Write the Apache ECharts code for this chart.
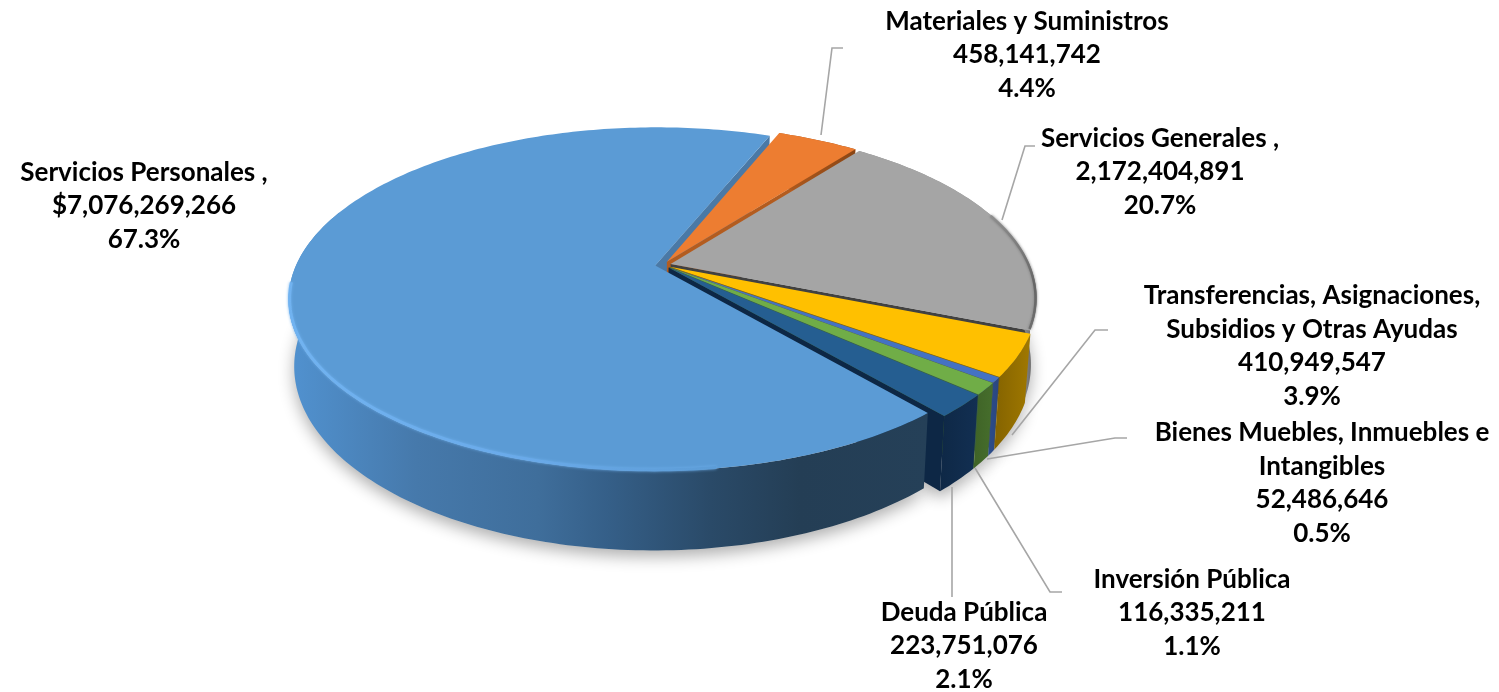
<!DOCTYPE html>
<html>
<head>
<meta charset="utf-8">
<title>Presupuesto por capitulo</title>
<script src="https://cdn.jsdelivr.net/npm/echarts@6/dist/echarts.min.js"></script>
<style>
  html, body { margin: 0; padding: 0; background: #fff; }
  #chart { width: 1499px; height: 692px; }
</style>
</head>
<body>
<div id="chart"></div>
<script>
// Data
const names = [
  'Servicios Personales ,',
  'Materiales y Suministros',
  'Servicios Generales ,',
  'Transferencias, Asignaciones,\nSubsidios y Otras Ayudas',
  'Bienes Muebles, Inmuebles e\nIntangibles',
  'Inversión Pública',
  'Deuda Pública'
];
const values = [7076269266, 458141742, 2172404891, 410949547, 52486646, 116335211, 223751076];
const amountLabels = ['$7,076,269,266', '458,141,742', '2,172,404,891', '410,949,547', '52,486,646', '116,335,211', '223,751,076'];
const percentLabels = ['67.3%', '4.4%', '20.7%', '3.9%', '0.5%', '1.1%', '2.1%'];

// Slice colours: top face, end cut, wall gradient
const topColors = ['#5b9bd5', '#ed7d31', '#a5a5a5', '#ffc000', '#4472c4', '#70ad47', '#255e91'];
const cutColors = ['#4a79a6', '#b35c1f', '#414141', '#8a6800', '#2a4a85', '#42682a', '#0d2745'];
const wallStops = [
  [[0, '#5192d0'], [0.2, '#4679ab'], [0.39, '#3f6e9b'], [0.5, '#355f88'], [0.66, '#2a4a68'], [0.8, '#243e55'], [1, '#254058']],
  [[0, '#b35c1f'], [1, '#8a4615']],
  [[0, '#8a8a8a'], [0.9, '#a0a0a0'], [1, '#555555']],
  [[0, '#846300'], [1, '#a07800']],
  [[0, '#2c4d8a'], [1, '#2a4680']],
  [[0, '#3f6327'], [1, '#466e2c']],
  [[0, '#0e2846'], [1, '#122f52']]
];

// Label placement: centre of text block, then leader line points
const labelCenters = [[144, 206], [1027, 55], [1160, 172], [1312, 346], [1322, 483], [1192, 613], [964, 646]];
const leaderLines = [
  null,
  [[821, 135], [832, 48], [843, 48]],
  [[1002, 220], [1025, 146], [1035, 146]],
  [[1012, 435], [1095, 330], [1108, 330]],
  [[987, 459], [1115, 438], [1127, 438]],
  [[975, 468], [1050, 592], [1062, 592]],
  [[952, 487], [952, 597]]
];

// Pie geometry
const cx = 663, cy = 265;   // centre of the disc on screen
const radius = 359;         // horizontal radius
const squash = 165;         // vertical radius before perspective
const persp = 0.195;        // how much nearer points grow
const wallHeight = 64;
const explode = 0.022;
const startAngle = 139.5;   // degrees clockwise from top
const lastWallAngle = 290;  // big slice's rim further round than this faces away

const total = values.reduce((a, b) => a + b, 0);
let running = startAngle;
const sliceAngles = values.map(v => {
  const from = running;
  running += v / total * 360;
  return [from, running];
});

const rad = d => d * Math.PI / 180;

const project = (angle, r, i, low) => {
  const mid = rad((sliceAngles[i][0] + sliceAngles[i][1]) / 2);
  const u = Math.sin(rad(angle)) * r + Math.sin(mid) * explode;
  const v = -Math.cos(rad(angle)) * r - Math.cos(mid) * explode;
  const s = 1 / (1 - persp * v);
  const x = cx + radius * u * s;
  const y = cy + squash * v * s;
  return low ? [cx + (x - cx) * 0.985, y + wallHeight * s] : [x, y];
};

const arc = (from, to, i, low) => {
  const pts = [];
  const n = Math.max(2, Math.ceil(to - from));
  for (let k = 0; k <= n; k++) pts.push(project(from + (to - from) * k / n, 1, i, low));
  return pts;
};

const renderShadow = (params) => {
  const i = params.dataIndex;
  const [a, b] = sliceAngles[i];
  return {
    type: 'polygon',
    shape: { points: [project(0, 0, i, true)].concat(arc(a, b, i, true)) },
    style: { fill: '#d0d0d0', shadowBlur: 16, shadowColor: 'rgba(0,0,0,0.32)', shadowOffsetY: 6 }
  };
};

const renderCuts = (params) => {
  const i = params.dataIndex;
  const b = sliceAngles[i][1];
  return {
    type: 'polygon',
    shape: { points: [project(0, 0, i, false), project(b, 1, i, false), project(b, 1, i, true), project(0, 0, i, true)] },
    style: { fill: cutColors[i] }
  };
};

const renderWalls = (params) => {
  const i = params.dataIndex;
  const [a, b] = sliceAngles[i];
  const end = a < lastWallAngle ? Math.min(b, lastWallAngle) : b;
  const top = arc(a, end, i, false);
  const low = arc(a, end, i, true);
  return {
    type: 'polygon',
    shape: { points: top.concat(low.slice().reverse()) },
    style: { fill: new echarts.graphic.LinearGradient(0, 0, 1, 0, wallStops[i].map(s => ({ offset: s[0], color: s[1] }))) }
  };
};

const renderTops = (params) => {
  const i = params.dataIndex;
  const [a, b] = sliceAngles[i];
  const children = [{
    type: 'polygon',
    shape: { points: [project(0, 0, i, false)].concat(arc(a, b, i, false)) },
    style: { fill: topColors[i] }
  }];
  // soft highlight along the front rim of the big slice
  if (i === 0) {
    children.push({
      type: 'polyline',
      shape: { points: arc(172, 264, i, false).map(p => [p[0] + 1, p[1] - 1]) },
      style: {
        fill: null,
        lineWidth: 3,
        opacity: 0.9,
        shadowBlur: 3,
        shadowColor: '#6fb1ee',
        stroke: new echarts.graphic.LinearGradient(0, 0, 1, 0, [
          { offset: 0, color: '#72b4f2' },
          { offset: 0.55, color: '#6aaaea' },
          { offset: 1, color: '#5b9bd5' }
        ])
      }
    });
  }
  // dark soft edge on the right of the grey slice
  if (i === 2) {
    children.push({
      type: 'polyline',
      shape: { points: arc(b - 40, b - 0.5, i, false).map(p => [p[0] - 1, p[1]]) },
      style: {
        fill: null,
        lineWidth: 2.5,
        shadowBlur: 3,
        shadowColor: '#777',
        stroke: new echarts.graphic.LinearGradient(0, 0, 0, 1, [
          { offset: 0, color: '#8f8f8f' },
          { offset: 0.6, color: '#666666' },
          { offset: 1, color: '#6e6e6e' }
        ])
      }
    });
  }
  return { type: 'group', children };
};

const labelElements = names.map((name, i) => ({
  type: 'text',
  x: labelCenters[i][0],
  y: labelCenters[i][1],
  z: 10,
  style: {
    text: name + '\n' + amountLabels[i] + '\n' + percentLabels[i],
    fill: '#000',
    font: 'bold 26px Lato',
    lineHeight: 33.6,
    align: 'center',
    verticalAlign: 'middle'
  }
}));

const leaderElements = leaderLines.filter(Boolean).map(pts => ({
  type: 'polyline',
  z: 9,
  shape: { points: pts },
  style: { stroke: '#a6a6a6', lineWidth: 1.6, fill: null }
}));

const chart = echarts.init(document.getElementById('chart'));
chart.setOption({
  backgroundColor: '#fff',
  animation: false,
  graphic: { elements: leaderElements.concat(labelElements) },
  series: [
    { type: 'custom', coordinateSystem: 'none', z: 1, silent: true, renderItem: renderShadow, data: values },
    { type: 'custom', coordinateSystem: 'none', z: 2, silent: true, renderItem: renderCuts, data: values },
    { type: 'custom', coordinateSystem: 'none', z: 3, silent: true, renderItem: renderWalls, data: values },
    { type: 'custom', coordinateSystem: 'none', z: 4, silent: true, renderItem: renderTops, data: values }
  ]
});
window.addEventListener('resize', () => chart.resize());
</script>
</body>
</html>
